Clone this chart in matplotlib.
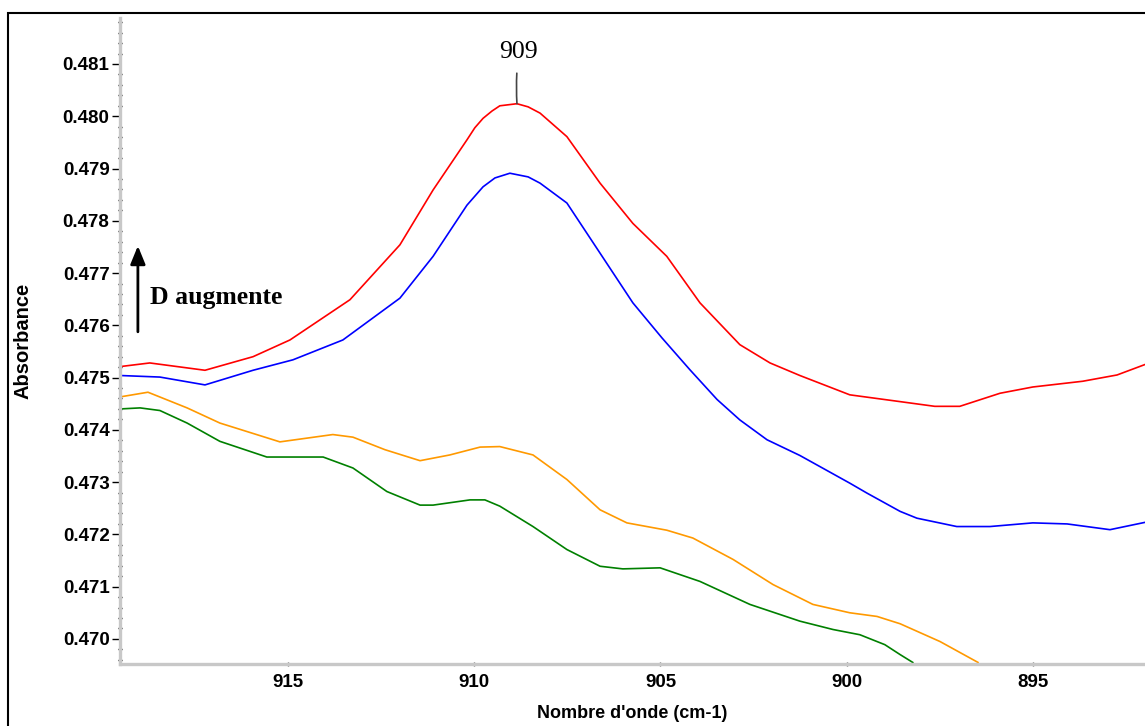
import numpy as np
import matplotlib
matplotlib.use('Agg')
import matplotlib.pyplot as plt
from matplotlib.ticker import MultipleLocator, FormatStrFormatter
from matplotlib.patches import Rectangle

# spectra (wavenumber cm-1, absorbance)
red_w = [919.50, 918.70, 917.22, 915.93, 914.94, 913.33, 911.99, 911.10, 910.19, 909.98, 909.76,
         909.52, 909.31, 908.85, 908.55, 908.23, 907.51, 906.62, 905.74, 904.83, 903.94, 902.87, 902.06,
         901.26, 899.92, 898.57, 897.64, 896.97, 895.89, 895.01, 893.67, 892.75, 892.00]
red_a = [0.47521, 0.47528, 0.47514, 0.47540, 0.47572, 0.47649, 0.47754, 0.47859, 0.47955, 0.47978, 0.47996,
         0.48010, 0.48020, 0.48024, 0.48018, 0.48006, 0.47961, 0.47872, 0.47795, 0.47732, 0.47643, 0.47563, 0.47528,
         0.47504, 0.47467, 0.47454, 0.47445, 0.47445, 0.47470, 0.47482, 0.47493, 0.47505, 0.47525]

blue_w = [919.50, 918.43, 917.22, 915.93, 914.86, 913.52, 911.99, 911.10, 910.19, 909.76, 909.44,
          909.04, 908.55, 908.23, 907.51, 906.62, 905.74, 904.96, 904.21, 903.48, 902.87, 902.14,
          901.26, 899.92, 899.46, 898.57, 898.12, 897.05, 896.16, 895.01, 894.09, 892.94, 892.00]
blue_a = [0.47504, 0.47501, 0.47486, 0.47514, 0.47534, 0.47572, 0.47652, 0.47732, 0.47830, 0.47865, 0.47882,
          0.47891, 0.47884, 0.47872, 0.47834, 0.47738, 0.47643, 0.47576, 0.47515, 0.47458, 0.47419, 0.47381,
          0.47351, 0.47298, 0.47279, 0.47244, 0.47231, 0.47215, 0.47215, 0.47222, 0.47220, 0.47209, 0.47223]

orange_w = [919.50, 918.75, 917.70, 916.82, 915.21, 913.79, 913.25, 912.39, 911.45, 910.65,
            909.84, 909.31, 908.42, 907.51, 906.62, 905.90, 904.83, 904.13, 903.05, 901.98,
            900.91, 899.92, 899.19, 898.57, 897.50, 896.48]
orange_a = [0.47463, 0.47472, 0.47442, 0.47413, 0.47377, 0.47391, 0.47386, 0.47362, 0.47341, 0.47352,
            0.47367, 0.47368, 0.47352, 0.47305, 0.47247, 0.47222, 0.47208, 0.47193, 0.47152, 0.47104,
            0.47066, 0.47050, 0.47043, 0.47029, 0.46995, 0.46955]

green_w = [919.50, 918.96, 918.43, 917.70, 916.82, 915.56, 914.05, 913.25, 912.34, 911.45,
           911.10, 910.11, 909.71, 909.31, 908.42, 907.51, 906.62, 906.01, 905.01, 903.94,
           902.60, 901.26, 900.37, 899.65, 898.98, 898.57, 898.23]
green_a = [0.47440, 0.47442, 0.47437, 0.47413, 0.47378, 0.47348, 0.47348, 0.47327, 0.47282, 0.47256,
           0.47256, 0.47266, 0.47266, 0.47254, 0.47215, 0.47171, 0.47139, 0.47134, 0.47136, 0.47110,
           0.47066, 0.47034, 0.47018, 0.47008, 0.46989, 0.46970, 0.46955]

series = [(red_w, red_a, '#ff0000'), (blue_w, blue_a, '#0000ff'),
          (orange_w, orange_a, '#ff9900'), (green_w, green_a, '#008000')]

peak_w, peak_a = 908.85, 0.48024

fig = plt.figure(figsize=(11.45, 7.26), dpi=100)
ax = fig.add_axes([120/1145, 62/726, 1025/1145, 646/726])

for w, a, c in series:
    ax.plot(w, a, color=c, lw=1.2, solid_joinstyle='round')

ax.set_xlim(919.5, 892.0)
ax.set_ylim(0.46952, 0.48188)

ax.xaxis.set_major_locator(MultipleLocator(5))
ax.xaxis.set_minor_locator(MultipleLocator(1))
ax.yaxis.set_major_locator(MultipleLocator(0.001))
ax.yaxis.set_minor_locator(MultipleLocator(0.0002))
ax.yaxis.set_major_formatter(FormatStrFormatter('%.3f'))

for s in ['top', 'right']:
    ax.spines[s].set_visible(False)
for s in ['left', 'bottom']:
    ax.spines[s].set_color('#c8c8c8')
    ax.spines[s].set_linewidth(2.4)

ax.tick_params(axis='y', which='major', direction='out', length=6, width=1, color='black', pad=1.5)
ax.tick_params(axis='y', which='minor', direction='inout', length=2.5, width=1, color='black')
ax.tick_params(axis='x', which='major', direction='inout', length=3, width=1, color='#555555', pad=6)
ax.tick_params(axis='x', which='minor', direction='inout', length=2, width=1.2, color='black')

for lab in ax.get_xticklabels() + ax.get_yticklabels():
    lab.set_fontfamily('Liberation Sans')
    lab.set_fontweight('bold')
    lab.set_fontsize(13.5)

ax.set_xlabel("Nombre d'onde (cm-1)", fontfamily='Liberation Sans', fontweight='bold', fontsize=13)
ax.set_ylabel('Absorbance', fontfamily='Liberation Sans', fontweight='bold', fontsize=14.5)
ax.xaxis.set_label_coords(0.5, -0.0635)
ax.yaxis.set_label_coords(-0.0849, 0.5)

# peak label
ax.annotate('909', xy=(peak_w, peak_a), xytext=(peak_w - 0.05, 0.48122),
            ha='center', va='center', fontsize=18.5, fontfamily='Liberation Serif',
            arrowprops=dict(arrowstyle='-', color='#444444', lw=1.2, shrinkA=5, shrinkB=0,
                            connectionstyle='arc3,rad=0.05'))

# arrow "D augmente"
ax.annotate('', xy=(919.02, 0.47752), xytext=(919.02, 0.475876),
            arrowprops=dict(arrowstyle='-|>,head_length=1.1,head_width=0.45', color='black',
                            lw=2.0, shrinkA=0, shrinkB=0))
ax.text(918.70, 0.476526, 'D augmente', ha='left', va='center', fontsize=18.5,
        fontfamily='Liberation Serif', fontweight='bold')

# outer frame
fig.patches.append(Rectangle((8/1145, -0.1), 1.2, 0.1 + (726 - 12.5)/726, transform=fig.transFigure,
                             fill=False, edgecolor='black', lw=1.5))

fig.savefig('out.png', dpi=100)
